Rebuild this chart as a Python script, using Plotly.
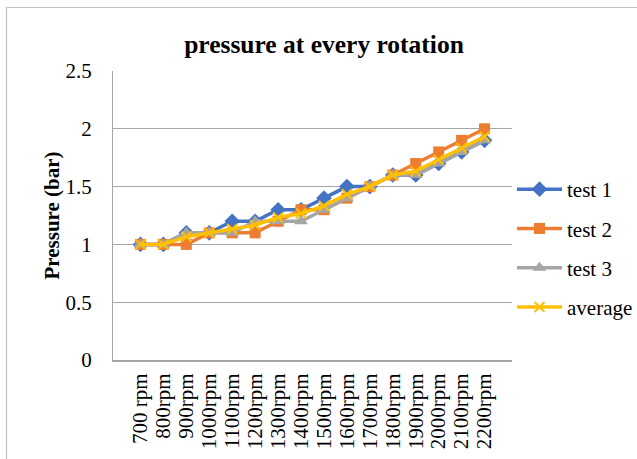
import plotly.graph_objects as go
import numpy as np

categories = ["700 rpm", "800rpm", "900rpm", "1000rpm", "1100rpm", "1200rpm", "1300rpm", "1400rpm",
              "1500rpm", "1600rpm", "1700rpm", "1800rpm", "1900rpm", "2000rpm", "2100rpm", "2200rpm"]
test1 = [1.0, 1.0, 1.1, 1.1, 1.2, 1.2, 1.3, 1.3, 1.4, 1.5, 1.5, 1.6, 1.6, 1.7, 1.8, 1.9]
test2 = [1.0, 1.0, 1.0, 1.1, 1.1, 1.1, 1.2, 1.3, 1.3, 1.4, 1.5, 1.6, 1.7, 1.8, 1.9, 2.0]
test3 = [1.0, 1.0, 1.1, 1.1, 1.1, 1.2, 1.2, 1.2, 1.3, 1.4, 1.5, 1.6, 1.6, 1.7, 1.8, 1.9]
average = list(np.round(np.mean([test1, test2, test3], axis=0), 4))

FONT = "Liberation Serif"
fig = go.Figure()
series = [
    ("test 1", test1, "#4472C4", "diamond", 12),
    ("test 2", test2, "#ED7D31", "square", 11),
    ("test 3", test3, "#A5A5A5", "triangle-up", 12),
    ("average", average, "#FFC000", "x-thin-open", 10),
]
for name, vals, col, sym, sz in series:
    fig.add_trace(go.Scatter(
        x=categories, y=vals, name=name, mode="lines+markers",
        line=dict(color=col, width=3.5),
        marker=dict(symbol=sym, size=sz, color=col, line=dict(color=col, width=2 if sym.startswith("x") else 0)),
        legendgroup=name,
    ))

W, H = 637, 459
L, R, T, B = 113, 125, 71, 99
pw, ph = W - L - R, H - T - B

fig.update_layout(
    width=W, height=H,
    margin=dict(l=L, r=R, t=T, b=B, autoexpand=False),
    paper_bgcolor="white", plot_bgcolor="white",
    font=dict(family=FONT, color="#000000", size=21),
    title=dict(text="<b>pressure at every rotation</b>", x=324 / W, xanchor="center",
               y=1 - 44 / H, yanchor="middle", font=dict(size=25.5, family=FONT)),
    legend=dict(x=(512 - L) / pw, xanchor="left", y=((T + ph) - 169) / ph, yanchor="top",
                font=dict(size=21, family=FONT), traceorder="grouped", tracegroupgap=9,
                bgcolor="rgba(0,0,0,0)", itemwidth=45, borderwidth=0),
    showlegend=True,
    shapes=[dict(type="rect", xref="paper", yref="paper",
                 x0=(6.5 - L) / pw, x1=(W + 5 - L) / pw, y0=-0.4, y1=1 + (T - 7.5) / ph,
                 line=dict(color="#BFBFBF", width=1.2), layer="below")],
)
fig.update_xaxes(
    tickmode="array", tickvals=categories, ticktext=categories,
    tickangle=-90, tickfont=dict(size=21, family=FONT), showgrid=False, automargin=False,
    showline=True, linecolor="#A6A6A6", linewidth=2, ticks="", ticklabelstandoff=3,
)
fig.update_yaxes(
    range=[0, 2.5], tickvals=[0, 0.5, 1, 1.5, 2, 2.5], ticktext=["0", "0.5", "1", "1.5", "2", "2.5"],
    showgrid=True, gridcolor="#A6A6A6", gridwidth=1.2, zeroline=False, automargin=False,
    showline=True, linecolor="#A6A6A6", linewidth=1.2,
    tickfont=dict(size=21, family=FONT), ticklabelstandoff=16,
    title=dict(text="<b>Pressure (bar)</b>", font=dict(size=21, family=FONT), standoff=0),
)
fig.write_html(
    "out.html",
    config={"displayModeBar": False},
    post_script="document.body.style.margin='0';document.body.style.overflow='hidden';",
)
